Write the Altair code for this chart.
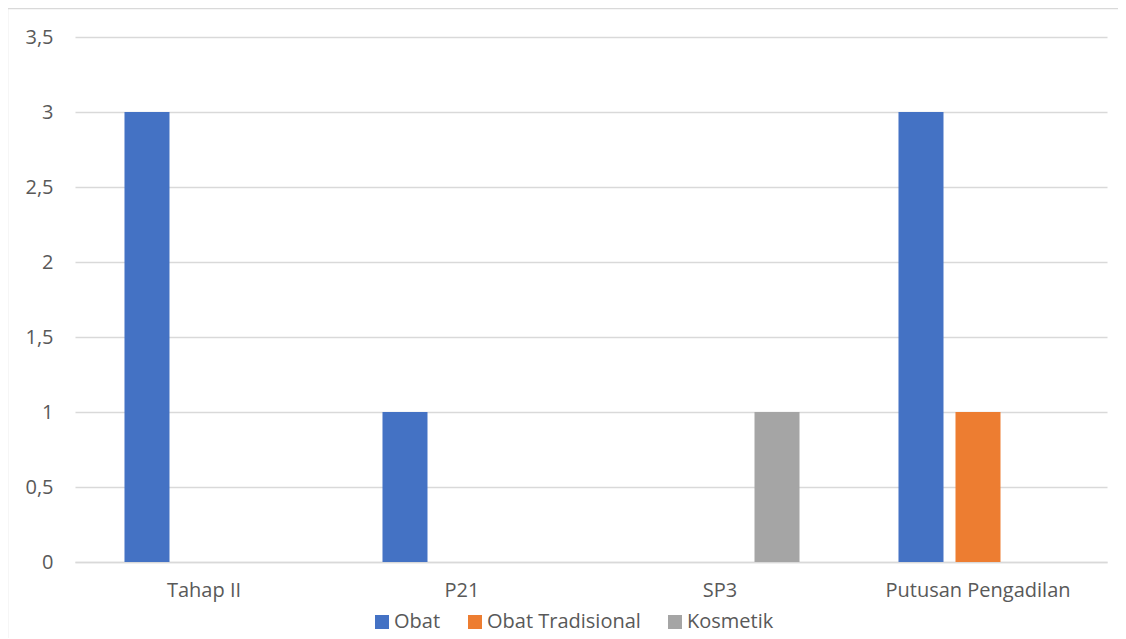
import altair as alt
import pandas as pd

categories = ["Tahap II", "P21", "SP3", "Putusan Pengadilan"]
series = ["Obat", "Obat Tradisional", "Kosmetik"]
obat = [3, 1, 0, 3]
obat_tradisional = [0, 0, 0, 1]
kosmetik = [0, 0, 1, 0]
colors = ["#4472C4", "#ED7D31", "#A5A5A5"]
y_ticks = [0, 0.5, 1, 1.5, 2, 2.5, 3, 3.5]

rows = []
for i, c in enumerate(categories):
    for s, vals in zip(series, [obat, obat_tradisional, kosmetik]):
        rows.append({"Kategori": c, "Seri": s, "Nilai": vals[i]})
df = pd.DataFrame(rows)

FONT = "Open Sans"
TXT = "#595959"
W, H = 1032, 525

bars = alt.Chart(df).mark_bar().encode(
    x=alt.X("Kategori:N", sort=categories,
            scale=alt.Scale(paddingInner=0, paddingOuter=0),
            axis=alt.Axis(title=None, labelAngle=0, ticks=False, domain=True,
                          domainColor="#D9D9D9", domainWidth=1.3,
                          labelPadding=18, labelFontSize=20, labelColor=TXT,
                          labelFont=FONT, grid=False, labelLimit=400)),
    xOffset=alt.XOffset("Seri:N", sort=series,
                        scale=alt.Scale(paddingInner=0.2105, paddingOuter=0.868)),
    y=alt.Y("Nilai:Q", scale=alt.Scale(domain=[0, 3.5], nice=False),
            axis=alt.Axis(title=None, values=y_ticks, format="~g",
                          labelExpr="replace(datum.label, '.', ',')",
                          ticks=False, domain=False, grid=True,
                          gridColor="#D9D9D9", gridWidth=1.3,
                          labelPadding=22, labelFontSize=20, labelColor=TXT,
                          labelFont=FONT)),
    color=alt.Color("Seri:N", sort=series,
                    scale=alt.Scale(domain=series, range=colors),
                    legend=alt.Legend(title=None, orient="none", direction="horizontal",
                                      legendX=297, legendY=575,
                                      symbolType="square", symbolSize=196,
                                      symbolStrokeWidth=0, labelOffset=2,
                                      columnPadding=24, labelFontSize=20,
                                      labelColor=TXT, labelFont=FONT, padding=0,
                                      labelLimit=400)),
)

frame = alt.Chart(pd.DataFrame({"a": [0]})).mark_rect(
    fill=None, stroke="#D9D9D9", strokeWidth=1.5
).encode(
    x=alt.value(-67.5), x2=alt.value(W + 40),
    y=alt.value(-28.5), y2=alt.value(H + 150),
)

chart = alt.layer(frame, bars).properties(
    width=W, height=H,
    autosize=alt.AutoSizeParams(type="none"),
    padding={"left": 67, "top": 29, "right": 11, "bottom": 76},
).configure_view(stroke=None)

chart.save("out.html", embed_options={"renderer": "svg", "actions": False})
